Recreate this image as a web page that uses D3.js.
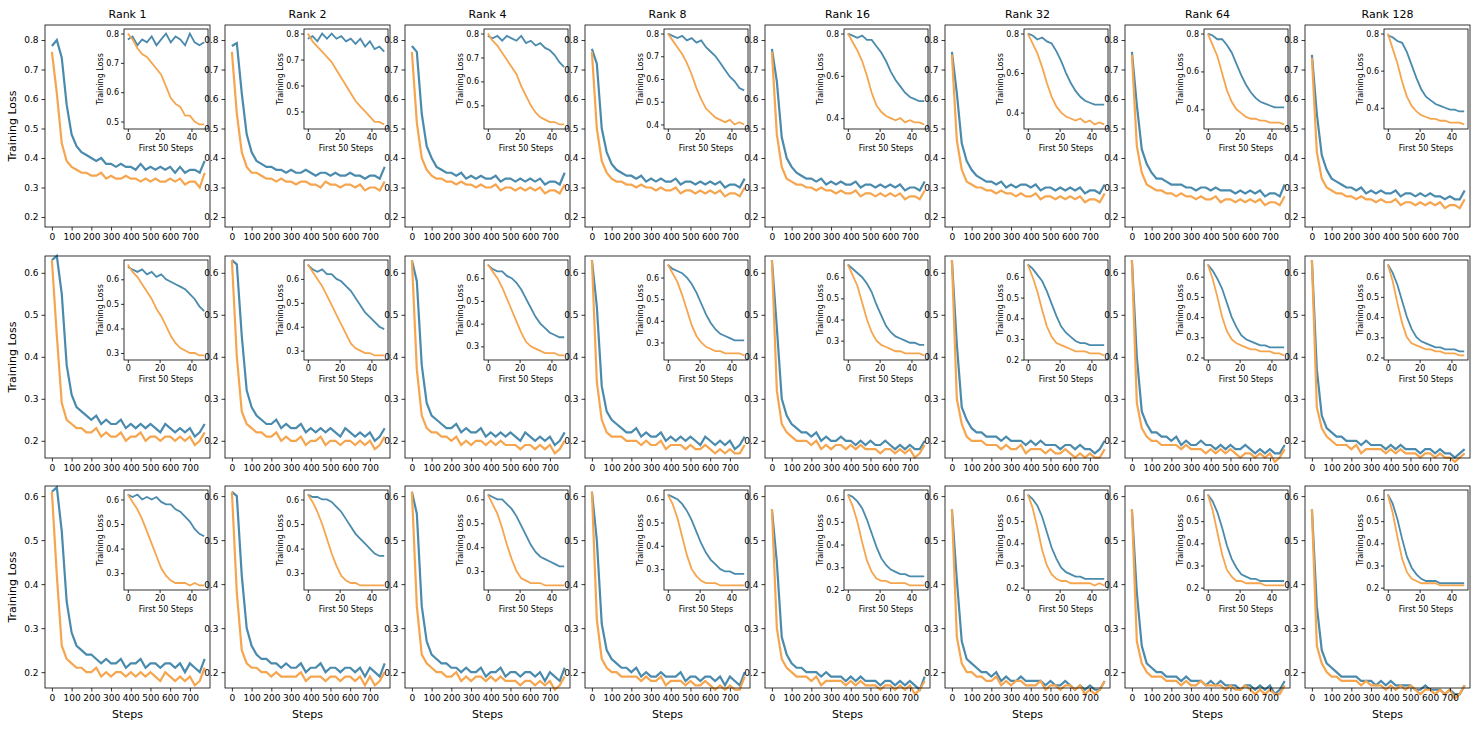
<!DOCTYPE html>
<html>
<head>
<meta charset="utf-8">
<script src="https://cdn.jsdelivr.net/npm/d3@7"></script>
<style>
body { margin: 0; background: #fff; }
text { font-family: "DejaVu Sans", sans-serif; }
</style>
</head>
<body>
<div id="chart"></div>
<script>
// ranks (columns)
var ranks = ['Rank 1', 'Rank 2', 'Rank 4', 'Rank 8', 'Rank 16', 'Rank 32', 'Rank 64', 'Rank 128'];
var mainSteps = d3.range(0, 776, 25);   // 32 sample steps
var insetSteps = d3.range(0, 49, 3);    // 17 sample steps
var mainTicksX = [0, 100, 200, 300, 400, 500, 600, 700];
var insetTicksX = [0, 20, 40];
var rowTicksY = [[0.2, 0.3, 0.4, 0.5, 0.6, 0.7, 0.8], [0.2, 0.3, 0.4, 0.5, 0.6], [0.2, 0.3, 0.4, 0.5, 0.6]];
var rowDomains = [[0.166, 0.851], [0.159, 0.640], [0.164, 0.623]];
var insetTickStep = [[0.1, 0.1, 0.1, 0.1, 0.2, 0.2, 0.2, 0.2], [0.1, 0.1, 0.1, 0.1, 0.1, 0.1, 0.1, 0.1], [0.1, 0.1, 0.1, 0.1, 0.1, 0.1, 0.1, 0.1]];

// main curves, row 1
var mainBlue1 = [
 [0.78,0.80,0.74,0.58,0.48,0.44,0.42,0.41,0.40,0.39,0.40,0.38,0.38,0.37,0.38,0.37,0.37,0.36,0.38,0.36,0.37,0.36,0.37,0.36,0.37,0.35,0.37,0.35,0.36,0.36,0.35,0.39],
 [0.78,0.79,0.62,0.48,0.42,0.39,0.38,0.37,0.37,0.36,0.36,0.35,0.36,0.35,0.35,0.36,0.35,0.34,0.35,0.35,0.34,0.35,0.34,0.34,0.35,0.34,0.34,0.33,0.34,0.34,0.33,0.37],
 [0.78,0.76,0.55,0.44,0.40,0.37,0.36,0.35,0.35,0.34,0.35,0.33,0.34,0.33,0.34,0.33,0.33,0.34,0.32,0.33,0.33,0.32,0.33,0.32,0.33,0.32,0.33,0.31,0.32,0.32,0.31,0.35],
 [0.77,0.72,0.50,0.42,0.38,0.36,0.35,0.34,0.34,0.33,0.34,0.32,0.33,0.32,0.33,0.32,0.32,0.33,0.31,0.32,0.32,0.31,0.32,0.31,0.32,0.31,0.32,0.30,0.31,0.31,0.30,0.33],
 [0.77,0.66,0.47,0.40,0.37,0.35,0.34,0.33,0.33,0.32,0.33,0.31,0.32,0.31,0.32,0.31,0.31,0.32,0.30,0.31,0.31,0.30,0.31,0.30,0.31,0.30,0.31,0.29,0.30,0.30,0.29,0.32],
 [0.76,0.62,0.45,0.39,0.36,0.34,0.33,0.32,0.32,0.31,0.32,0.30,0.31,0.30,0.31,0.31,0.30,0.31,0.29,0.30,0.30,0.29,0.30,0.29,0.30,0.29,0.30,0.28,0.29,0.29,0.28,0.31],
 [0.76,0.58,0.43,0.38,0.35,0.33,0.33,0.32,0.31,0.31,0.31,0.30,0.30,0.29,0.30,0.30,0.29,0.30,0.29,0.29,0.29,0.28,0.29,0.28,0.29,0.28,0.29,0.27,0.28,0.28,0.27,0.31],
 [0.75,0.55,0.41,0.36,0.33,0.32,0.31,0.30,0.30,0.29,0.30,0.28,0.29,0.28,0.29,0.28,0.28,0.29,0.27,0.28,0.28,0.27,0.28,0.27,0.28,0.27,0.27,0.26,0.27,0.26,0.26,0.29]
];
var mainOrange1 = [
 [0.76,0.62,0.45,0.39,0.37,0.36,0.35,0.35,0.34,0.34,0.35,0.33,0.34,0.33,0.33,0.34,0.33,0.33,0.32,0.33,0.32,0.33,0.32,0.32,0.33,0.32,0.33,0.31,0.32,0.32,0.30,0.35],
 [0.76,0.55,0.42,0.37,0.35,0.35,0.34,0.33,0.33,0.32,0.33,0.32,0.32,0.31,0.32,0.32,0.31,0.31,0.30,0.32,0.31,0.31,0.30,0.31,0.31,0.30,0.31,0.29,0.30,0.30,0.29,0.32],
 [0.76,0.52,0.40,0.36,0.34,0.33,0.33,0.32,0.32,0.31,0.32,0.31,0.31,0.30,0.31,0.30,0.30,0.31,0.29,0.30,0.30,0.29,0.30,0.29,0.30,0.29,0.30,0.28,0.29,0.29,0.28,0.31],
 [0.76,0.50,0.39,0.35,0.33,0.32,0.32,0.31,0.31,0.30,0.31,0.30,0.30,0.29,0.30,0.29,0.29,0.30,0.28,0.29,0.29,0.28,0.29,0.28,0.29,0.28,0.29,0.27,0.28,0.28,0.27,0.30],
 [0.76,0.48,0.37,0.33,0.32,0.31,0.31,0.30,0.30,0.29,0.30,0.29,0.29,0.28,0.29,0.28,0.28,0.29,0.27,0.28,0.28,0.27,0.28,0.27,0.28,0.27,0.28,0.26,0.27,0.27,0.26,0.29],
 [0.75,0.46,0.36,0.32,0.31,0.30,0.30,0.29,0.29,0.28,0.29,0.28,0.28,0.27,0.28,0.27,0.27,0.28,0.26,0.27,0.27,0.26,0.27,0.26,0.27,0.26,0.27,0.25,0.26,0.26,0.25,0.28],
 [0.75,0.44,0.35,0.31,0.30,0.29,0.29,0.28,0.28,0.27,0.28,0.27,0.27,0.26,0.27,0.26,0.26,0.27,0.25,0.26,0.26,0.25,0.26,0.25,0.26,0.25,0.26,0.24,0.25,0.25,0.24,0.27],
 [0.74,0.42,0.33,0.30,0.29,0.28,0.28,0.27,0.27,0.26,0.27,0.26,0.26,0.25,0.26,0.25,0.25,0.26,0.24,0.25,0.25,0.24,0.25,0.24,0.25,0.24,0.25,0.23,0.24,0.24,0.23,0.26]
];
// main curves, row 2
var mainBlue2 = [
 [0.63,0.64,0.55,0.38,0.31,0.28,0.27,0.26,0.25,0.26,0.24,0.25,0.24,0.24,0.25,0.23,0.24,0.23,0.24,0.23,0.24,0.23,0.22,0.24,0.23,0.22,0.23,0.22,0.23,0.21,0.22,0.24],
 [0.63,0.62,0.45,0.32,0.28,0.26,0.25,0.24,0.24,0.25,0.23,0.24,0.23,0.23,0.24,0.22,0.23,0.22,0.23,0.22,0.23,0.22,0.21,0.23,0.22,0.21,0.22,0.21,0.22,0.20,0.21,0.23],
 [0.63,0.58,0.38,0.29,0.26,0.25,0.24,0.23,0.23,0.24,0.22,0.23,0.22,0.22,0.23,0.21,0.22,0.21,0.22,0.21,0.22,0.21,0.20,0.22,0.21,0.20,0.21,0.20,0.21,0.19,0.20,0.22],
 [0.63,0.52,0.33,0.27,0.25,0.24,0.23,0.22,0.22,0.23,0.21,0.22,0.21,0.21,0.22,0.20,0.21,0.20,0.21,0.20,0.21,0.20,0.19,0.21,0.20,0.19,0.20,0.19,0.20,0.18,0.19,0.21],
 [0.63,0.47,0.30,0.26,0.24,0.23,0.22,0.22,0.21,0.22,0.20,0.21,0.20,0.20,0.21,0.20,0.20,0.19,0.20,0.19,0.20,0.19,0.19,0.20,0.19,0.18,0.19,0.18,0.19,0.18,0.18,0.20],
 [0.63,0.43,0.28,0.25,0.23,0.22,0.22,0.21,0.21,0.21,0.20,0.21,0.20,0.20,0.20,0.19,0.20,0.19,0.20,0.19,0.19,0.19,0.18,0.19,0.19,0.18,0.19,0.18,0.18,0.17,0.18,0.20],
 [0.63,0.40,0.27,0.24,0.22,0.22,0.21,0.21,0.20,0.21,0.19,0.20,0.19,0.19,0.20,0.19,0.19,0.18,0.19,0.18,0.19,0.18,0.18,0.19,0.18,0.17,0.18,0.17,0.18,0.17,0.17,0.19],
 [0.63,0.37,0.26,0.23,0.22,0.21,0.21,0.20,0.20,0.20,0.19,0.20,0.19,0.19,0.19,0.18,0.19,0.18,0.19,0.18,0.18,0.18,0.17,0.18,0.18,0.17,0.18,0.17,0.17,0.16,0.17,0.18]
];
var mainOrange2 = [
 [0.63,0.45,0.29,0.25,0.24,0.23,0.23,0.22,0.22,0.23,0.21,0.22,0.21,0.21,0.22,0.20,0.21,0.21,0.22,0.20,0.21,0.21,0.20,0.21,0.21,0.20,0.21,0.20,0.21,0.19,0.20,0.22],
 [0.63,0.40,0.27,0.24,0.23,0.22,0.22,0.21,0.21,0.22,0.20,0.21,0.20,0.20,0.21,0.19,0.20,0.20,0.21,0.19,0.20,0.20,0.19,0.20,0.20,0.19,0.20,0.19,0.20,0.18,0.19,0.21],
 [0.63,0.37,0.26,0.23,0.22,0.22,0.21,0.21,0.20,0.21,0.19,0.20,0.19,0.20,0.20,0.19,0.20,0.19,0.20,0.19,0.19,0.19,0.18,0.19,0.19,0.18,0.19,0.18,0.19,0.17,0.18,0.20],
 [0.63,0.34,0.25,0.22,0.21,0.21,0.21,0.20,0.20,0.20,0.19,0.20,0.19,0.19,0.20,0.18,0.19,0.19,0.19,0.18,0.19,0.18,0.18,0.19,0.18,0.17,0.18,0.17,0.18,0.17,0.17,0.19],
 [0.63,0.32,0.24,0.22,0.21,0.20,0.20,0.20,0.19,0.20,0.18,0.19,0.18,0.19,0.19,0.18,0.19,0.18,0.19,0.18,0.18,0.18,0.17,0.18,0.18,0.17,0.18,0.17,0.18,0.16,0.17,0.19],
 [0.63,0.30,0.24,0.21,0.20,0.20,0.20,0.19,0.19,0.19,0.18,0.19,0.18,0.18,0.19,0.17,0.18,0.18,0.18,0.17,0.18,0.17,0.17,0.18,0.17,0.16,0.17,0.16,0.17,0.16,0.16,0.18],
 [0.63,0.29,0.23,0.21,0.20,0.20,0.19,0.19,0.19,0.19,0.18,0.19,0.18,0.18,0.18,0.17,0.18,0.17,0.18,0.17,0.18,0.17,0.16,0.17,0.17,0.16,0.17,0.16,0.17,0.15,0.16,0.18],
 [0.63,0.28,0.23,0.21,0.20,0.19,0.19,0.19,0.18,0.19,0.17,0.18,0.18,0.18,0.18,0.17,0.18,0.17,0.18,0.17,0.17,0.17,0.16,0.17,0.17,0.16,0.17,0.16,0.16,0.15,0.16,0.17]
];
// main curves, row 3
var mainBlue3 = [
 [0.61,0.62,0.52,0.36,0.29,0.26,0.25,0.24,0.24,0.23,0.22,0.23,0.22,0.22,0.23,0.21,0.22,0.22,0.23,0.21,0.22,0.22,0.21,0.22,0.22,0.21,0.22,0.20,0.22,0.21,0.20,0.23],
 [0.61,0.60,0.42,0.30,0.26,0.24,0.23,0.23,0.22,0.22,0.21,0.22,0.21,0.21,0.22,0.20,0.21,0.21,0.22,0.20,0.21,0.21,0.20,0.21,0.21,0.20,0.21,0.19,0.21,0.20,0.19,0.22],
 [0.61,0.56,0.35,0.27,0.24,0.23,0.22,0.22,0.21,0.21,0.20,0.21,0.20,0.20,0.21,0.19,0.20,0.20,0.21,0.19,0.20,0.20,0.19,0.20,0.20,0.19,0.20,0.18,0.20,0.19,0.18,0.21],
 [0.61,0.50,0.31,0.25,0.23,0.22,0.21,0.21,0.20,0.21,0.19,0.20,0.19,0.19,0.20,0.19,0.19,0.19,0.20,0.18,0.19,0.19,0.18,0.19,0.19,0.18,0.19,0.17,0.19,0.18,0.17,0.20],
 [0.57,0.45,0.28,0.24,0.22,0.21,0.21,0.20,0.20,0.20,0.19,0.20,0.19,0.19,0.19,0.18,0.19,0.18,0.19,0.18,0.18,0.18,0.17,0.18,0.18,0.17,0.18,0.17,0.18,0.17,0.16,0.19],
 [0.57,0.41,0.27,0.23,0.22,0.21,0.20,0.20,0.19,0.20,0.18,0.19,0.18,0.18,0.19,0.18,0.18,0.18,0.18,0.17,0.18,0.17,0.17,0.18,0.17,0.16,0.17,0.16,0.17,0.16,0.16,0.18],
 [0.57,0.38,0.26,0.22,0.21,0.20,0.20,0.19,0.19,0.19,0.18,0.19,0.18,0.18,0.18,0.17,0.18,0.17,0.18,0.17,0.17,0.17,0.16,0.17,0.17,0.16,0.17,0.16,0.17,0.15,0.16,0.18],
 [0.57,0.35,0.25,0.22,0.21,0.20,0.19,0.19,0.19,0.19,0.18,0.18,0.18,0.17,0.18,0.17,0.18,0.17,0.17,0.17,0.17,0.16,0.16,0.17,0.16,0.16,0.16,0.15,0.16,0.15,0.15,0.17]
];
var mainOrange3 = [
 [0.61,0.42,0.26,0.23,0.22,0.21,0.21,0.20,0.20,0.21,0.19,0.20,0.19,0.20,0.20,0.19,0.20,0.19,0.20,0.19,0.20,0.19,0.18,0.20,0.19,0.18,0.19,0.18,0.19,0.17,0.18,0.21],
 [0.61,0.38,0.25,0.22,0.21,0.21,0.20,0.20,0.19,0.20,0.19,0.19,0.19,0.19,0.20,0.18,0.19,0.19,0.19,0.18,0.19,0.19,0.18,0.19,0.19,0.18,0.19,0.17,0.19,0.17,0.18,0.20],
 [0.61,0.35,0.24,0.22,0.21,0.20,0.20,0.19,0.19,0.20,0.18,0.19,0.18,0.19,0.19,0.18,0.19,0.18,0.19,0.18,0.18,0.18,0.17,0.18,0.18,0.17,0.18,0.17,0.18,0.16,0.17,0.19],
 [0.61,0.32,0.23,0.21,0.20,0.20,0.19,0.19,0.19,0.19,0.18,0.19,0.18,0.18,0.19,0.17,0.18,0.18,0.18,0.17,0.18,0.17,0.17,0.18,0.17,0.16,0.17,0.16,0.17,0.16,0.16,0.19],
 [0.57,0.30,0.23,0.21,0.20,0.19,0.19,0.19,0.18,0.19,0.17,0.18,0.18,0.18,0.18,0.17,0.18,0.17,0.18,0.17,0.17,0.17,0.16,0.17,0.17,0.16,0.17,0.16,0.17,0.15,0.16,0.18],
 [0.57,0.28,0.22,0.20,0.20,0.19,0.19,0.18,0.18,0.19,0.17,0.18,0.17,0.18,0.18,0.17,0.17,0.17,0.18,0.16,0.17,0.17,0.16,0.17,0.17,0.16,0.17,0.15,0.16,0.15,0.16,0.18],
 [0.57,0.27,0.22,0.20,0.19,0.19,0.19,0.18,0.18,0.18,0.17,0.18,0.17,0.17,0.18,0.17,0.17,0.17,0.17,0.16,0.17,0.16,0.16,0.17,0.16,0.15,0.16,0.15,0.16,0.15,0.15,0.17],
 [0.57,0.26,0.22,0.20,0.19,0.19,0.18,0.18,0.18,0.18,0.17,0.18,0.17,0.17,0.17,0.16,0.17,0.16,0.17,0.16,0.17,0.16,0.15,0.16,0.16,0.15,0.16,0.15,0.16,0.14,0.15,0.17]
];

// inset curves (first 50 steps), row 1
var insetBlue1 = [
 [0.78,0.79,0.76,0.78,0.77,0.79,0.76,0.78,0.80,0.77,0.79,0.78,0.76,0.80,0.77,0.76,0.77],
 [0.78,0.79,0.77,0.80,0.78,0.80,0.78,0.79,0.77,0.78,0.76,0.78,0.75,0.77,0.74,0.75,0.73],
 [0.79,0.78,0.79,0.77,0.79,0.78,0.77,0.79,0.76,0.77,0.75,0.76,0.74,0.73,0.71,0.68,0.66],
 [0.80,0.79,0.78,0.79,0.77,0.78,0.76,0.77,0.74,0.72,0.70,0.67,0.64,0.61,0.59,0.56,0.55],
 [0.80,0.79,0.78,0.79,0.77,0.77,0.74,0.71,0.67,0.62,0.58,0.55,0.52,0.50,0.49,0.48,0.48],
 [0.80,0.79,0.77,0.78,0.76,0.75,0.71,0.66,0.60,0.55,0.51,0.48,0.46,0.45,0.44,0.44,0.44],
 [0.80,0.79,0.77,0.77,0.74,0.70,0.64,0.58,0.53,0.49,0.46,0.44,0.43,0.42,0.41,0.41,0.41],
 [0.79,0.78,0.76,0.75,0.70,0.63,0.56,0.50,0.46,0.44,0.42,0.41,0.40,0.39,0.39,0.38,0.38]
];
var insetOrange1 = [
 [0.80,0.78,0.75,0.73,0.72,0.70,0.68,0.66,0.62,0.58,0.56,0.55,0.52,0.52,0.50,0.49,0.49],
 [0.80,0.77,0.75,0.73,0.71,0.69,0.66,0.63,0.60,0.57,0.54,0.52,0.50,0.48,0.46,0.46,0.45],
 [0.80,0.77,0.75,0.72,0.69,0.66,0.63,0.58,0.54,0.50,0.47,0.45,0.44,0.43,0.43,0.42,0.42],
 [0.80,0.77,0.74,0.71,0.67,0.62,0.56,0.51,0.47,0.45,0.43,0.42,0.41,0.42,0.40,0.41,0.40],
 [0.80,0.76,0.72,0.67,0.60,0.52,0.46,0.43,0.41,0.40,0.39,0.40,0.38,0.39,0.38,0.38,0.37],
 [0.80,0.75,0.70,0.63,0.55,0.48,0.43,0.40,0.38,0.37,0.36,0.37,0.35,0.36,0.34,0.35,0.34],
 [0.80,0.74,0.68,0.59,0.50,0.44,0.40,0.38,0.36,0.35,0.35,0.34,0.34,0.33,0.33,0.33,0.32],
 [0.80,0.72,0.64,0.54,0.46,0.41,0.38,0.36,0.35,0.34,0.34,0.33,0.33,0.32,0.32,0.32,0.31]
];
// inset curves, row 2
var insetBlue2 = [
 [0.65,0.64,0.63,0.64,0.62,0.63,0.61,0.62,0.60,0.59,0.58,0.57,0.56,0.54,0.52,0.49,0.47],
 [0.66,0.64,0.63,0.64,0.62,0.62,0.60,0.59,0.57,0.55,0.52,0.49,0.46,0.44,0.42,0.40,0.39],
 [0.66,0.64,0.63,0.63,0.61,0.60,0.58,0.55,0.51,0.47,0.43,0.40,0.38,0.36,0.35,0.34,0.34],
 [0.66,0.64,0.63,0.62,0.60,0.57,0.53,0.48,0.43,0.39,0.36,0.34,0.33,0.32,0.31,0.31,0.31],
 [0.66,0.64,0.62,0.60,0.57,0.53,0.47,0.42,0.37,0.34,0.32,0.31,0.30,0.29,0.29,0.28,0.28],
 [0.66,0.64,0.61,0.58,0.53,0.47,0.41,0.36,0.33,0.31,0.29,0.28,0.28,0.27,0.27,0.27,0.27],
 [0.66,0.63,0.59,0.54,0.47,0.40,0.35,0.31,0.29,0.28,0.27,0.26,0.26,0.25,0.25,0.25,0.25],
 [0.66,0.62,0.56,0.48,0.40,0.34,0.30,0.28,0.27,0.26,0.25,0.25,0.24,0.24,0.24,0.23,0.23]
];
var insetOrange2 = [
 [0.66,0.63,0.61,0.58,0.55,0.52,0.48,0.45,0.41,0.37,0.34,0.32,0.31,0.30,0.30,0.29,0.29],
 [0.66,0.63,0.60,0.57,0.53,0.49,0.45,0.41,0.37,0.33,0.31,0.30,0.29,0.29,0.28,0.28,0.28],
 [0.66,0.63,0.60,0.56,0.51,0.46,0.41,0.36,0.32,0.30,0.29,0.28,0.27,0.27,0.27,0.26,0.26],
 [0.66,0.62,0.58,0.52,0.45,0.38,0.33,0.30,0.28,0.27,0.26,0.26,0.25,0.25,0.25,0.25,0.24],
 [0.66,0.61,0.56,0.48,0.40,0.34,0.30,0.28,0.27,0.26,0.25,0.25,0.24,0.24,0.24,0.24,0.23],
 [0.66,0.60,0.53,0.44,0.36,0.31,0.28,0.27,0.26,0.25,0.24,0.24,0.24,0.23,0.23,0.23,0.22],
 [0.66,0.59,0.50,0.40,0.33,0.29,0.27,0.26,0.25,0.24,0.24,0.23,0.23,0.23,0.22,0.22,0.21],
 [0.66,0.58,0.47,0.37,0.30,0.27,0.26,0.25,0.24,0.24,0.23,0.23,0.22,0.22,0.22,0.21,0.21]
];
// inset curves, row 3
var insetBlue3 = [
 [0.62,0.61,0.62,0.60,0.61,0.60,0.61,0.59,0.58,0.58,0.56,0.55,0.53,0.51,0.48,0.46,0.45],
 [0.62,0.61,0.61,0.60,0.60,0.59,0.57,0.55,0.52,0.49,0.46,0.44,0.42,0.40,0.38,0.37,0.37],
 [0.62,0.61,0.60,0.60,0.58,0.56,0.53,0.49,0.45,0.41,0.38,0.36,0.35,0.34,0.33,0.32,0.32],
 [0.62,0.61,0.60,0.58,0.55,0.51,0.46,0.41,0.37,0.34,0.32,0.30,0.29,0.29,0.28,0.28,0.28],
 [0.62,0.61,0.59,0.56,0.51,0.45,0.39,0.34,0.31,0.29,0.28,0.27,0.27,0.26,0.26,0.26,0.26],
 [0.62,0.60,0.57,0.52,0.45,0.38,0.33,0.29,0.27,0.26,0.25,0.25,0.24,0.24,0.24,0.24,0.24],
 [0.62,0.59,0.54,0.47,0.39,0.33,0.29,0.26,0.25,0.24,0.24,0.23,0.23,0.23,0.23,0.23,0.23],
 [0.62,0.58,0.51,0.42,0.34,0.29,0.26,0.24,0.23,0.23,0.23,0.22,0.22,0.22,0.22,0.22,0.22]
];
var insetOrange3 = [
 [0.62,0.59,0.56,0.52,0.47,0.42,0.37,0.32,0.29,0.27,0.26,0.26,0.26,0.25,0.26,0.25,0.25],
 [0.62,0.59,0.55,0.50,0.44,0.38,0.33,0.29,0.27,0.26,0.26,0.25,0.25,0.25,0.25,0.25,0.25],
 [0.62,0.58,0.54,0.48,0.41,0.35,0.30,0.27,0.26,0.25,0.25,0.25,0.24,0.24,0.24,0.24,0.24],
 [0.62,0.58,0.52,0.44,0.36,0.30,0.27,0.25,0.24,0.24,0.24,0.23,0.23,0.23,0.23,0.23,0.23],
 [0.62,0.57,0.50,0.41,0.33,0.28,0.25,0.24,0.24,0.23,0.23,0.23,0.23,0.22,0.22,0.22,0.22],
 [0.62,0.56,0.47,0.37,0.30,0.26,0.24,0.23,0.23,0.22,0.22,0.22,0.22,0.22,0.21,0.22,0.21],
 [0.62,0.55,0.45,0.35,0.28,0.25,0.23,0.23,0.22,0.22,0.22,0.22,0.21,0.21,0.21,0.21,0.21],
 [0.62,0.54,0.43,0.33,0.27,0.24,0.23,0.22,0.22,0.22,0.22,0.21,0.21,0.21,0.21,0.21,0.21]
];

var mainBlue = [mainBlue1, mainBlue2, mainBlue3];
var mainOrange = [mainOrange1, mainOrange2, mainOrange3];
var insetBlue = [insetBlue1, insetBlue2, insetBlue3];
var insetOrange = [insetOrange1, insetOrange2, insetOrange3];

var blue = '#4a8aad';
var orange = '#f6a54f';

var width = 1483, height = 738;
var colLeft = 45, colStep = 180, panelW = 165;
var rowTops = [25, 256, 486], panelH = 202;
var inset = { dx: 79, dy: 4, w: 84, h: 100 };

var svg = d3.select('#chart').append('svg')
    .attr('width', width)
    .attr('height', height);

function styleAxis(g, fs) {
    g.selectAll('line').attr('stroke', '#000').attr('stroke-width', 0.8);
    g.selectAll('text').attr('fill', '#000').style('font-size', fs + 'px');
}

for (let r = 0; r < 3; r++) {
    for (let c = 0; c < 8; c++) {
        let x0 = colLeft + c * colStep;
        let y0 = rowTops[r];
        let g = svg.append('g').attr('transform', 'translate(' + x0 + ',' + y0 + ')');

        // main axes
        let xs = d3.scaleLinear().domain([-35, 802]).range([0, panelW]);
        let ys = d3.scaleLinear().domain(rowDomains[r]).range([panelH, 0]);
        let line = d3.line().x(function (d, i) { return xs(mainSteps[i]); }).y(function (d) { return ys(d); });

        g.append('path').datum(mainBlue[r][c]).attr('d', line)
            .attr('fill', 'none').attr('stroke', blue).attr('stroke-width', 2.2);
        g.append('path').datum(mainOrange[r][c]).attr('d', line)
            .attr('fill', 'none').attr('stroke', orange).attr('stroke-width', 2.2);

        g.append('rect').attr('width', panelW).attr('height', panelH)
            .attr('fill', 'none').attr('stroke', '#000').attr('stroke-width', 0.8);

        let gx = g.append('g').attr('transform', 'translate(0,' + panelH + ')')
            .call(d3.axisBottom(xs).tickValues(mainTicksX).tickSize(3.5).tickPadding(3).tickFormat(d3.format('d')));
        gx.select('.domain').remove();
        styleAxis(gx, 9);
        let gy = g.append('g')
            .call(d3.axisLeft(ys).tickValues(rowTicksY[r]).tickSize(3.5).tickPadding(3).tickFormat(d3.format('.1f')));
        gy.select('.domain').remove();
        styleAxis(gy, 9);

        if (c === 0) {
            g.append('text').attr('transform', 'translate(-29,' + panelH / 2 + ') rotate(-90)')
                .attr('text-anchor', 'middle').style('font-size', '11px').text('Training Loss');
        }
        if (r === 0) {
            g.append('text').attr('x', panelW / 2).attr('y', -7)
                .attr('text-anchor', 'middle').style('font-size', '11px').text(ranks[c]);
        }
        if (r === 2) {
            g.append('text').attr('x', panelW / 2).attr('y', panelH + 30)
                .attr('text-anchor', 'middle').style('font-size', '11px').text('Steps');
        }

        // inset
        let gi = g.append('g').attr('transform', 'translate(' + inset.dx + ',' + inset.dy + ')');
        let allIn = insetBlue[r][c].concat(insetOrange[r][c]);
        let lo = d3.min(allIn), hi = d3.max(allIn), pad = (hi - lo) * 0.05;
        let xi = d3.scaleLinear().domain([-2.4, 50.4]).range([0, inset.w]);
        let yi = d3.scaleLinear().domain([lo - pad, hi + pad]).range([inset.h, 0]);
        let lineI = d3.line().x(function (d, i) { return xi(insetSteps[i]); }).y(function (d) { return yi(d); });
        let st = insetTickStep[r][c];
        let yTicks = d3.range(Math.ceil((lo - pad) / st - 1e-9) * st, hi + pad + 1e-9, st);

        gi.append('rect').attr('width', inset.w).attr('height', inset.h).attr('fill', '#fff');
        gi.append('path').datum(insetBlue[r][c]).attr('d', lineI)
            .attr('fill', 'none').attr('stroke', blue).attr('stroke-width', 1.8);
        gi.append('path').datum(insetOrange[r][c]).attr('d', lineI)
            .attr('fill', 'none').attr('stroke', orange).attr('stroke-width', 1.8);
        gi.append('rect').attr('width', inset.w).attr('height', inset.h)
            .attr('fill', 'none').attr('stroke', '#000').attr('stroke-width', 0.8);

        let gix = gi.append('g').attr('transform', 'translate(0,' + inset.h + ')')
            .call(d3.axisBottom(xi).tickValues(insetTicksX).tickSize(3).tickPadding(2));
        gix.select('.domain').remove();
        styleAxis(gix, 8);
        let giy = gi.append('g')
            .call(d3.axisLeft(yi).tickValues(yTicks).tickSize(3).tickPadding(2).tickFormat(d3.format('.1f')));
        giy.select('.domain').remove();
        styleAxis(giy, 8);

        gi.append('text').attr('x', inset.w / 2).attr('y', inset.h + 22)
            .attr('text-anchor', 'middle').style('font-size', '8px').text('First 50 Steps');
        gi.append('text').attr('transform', 'translate(-21,' + inset.h / 2 + ') rotate(-90)')
            .attr('text-anchor', 'middle').style('font-size', '8px').text('Training Loss');
    }
}
</script>
</body>
</html>
